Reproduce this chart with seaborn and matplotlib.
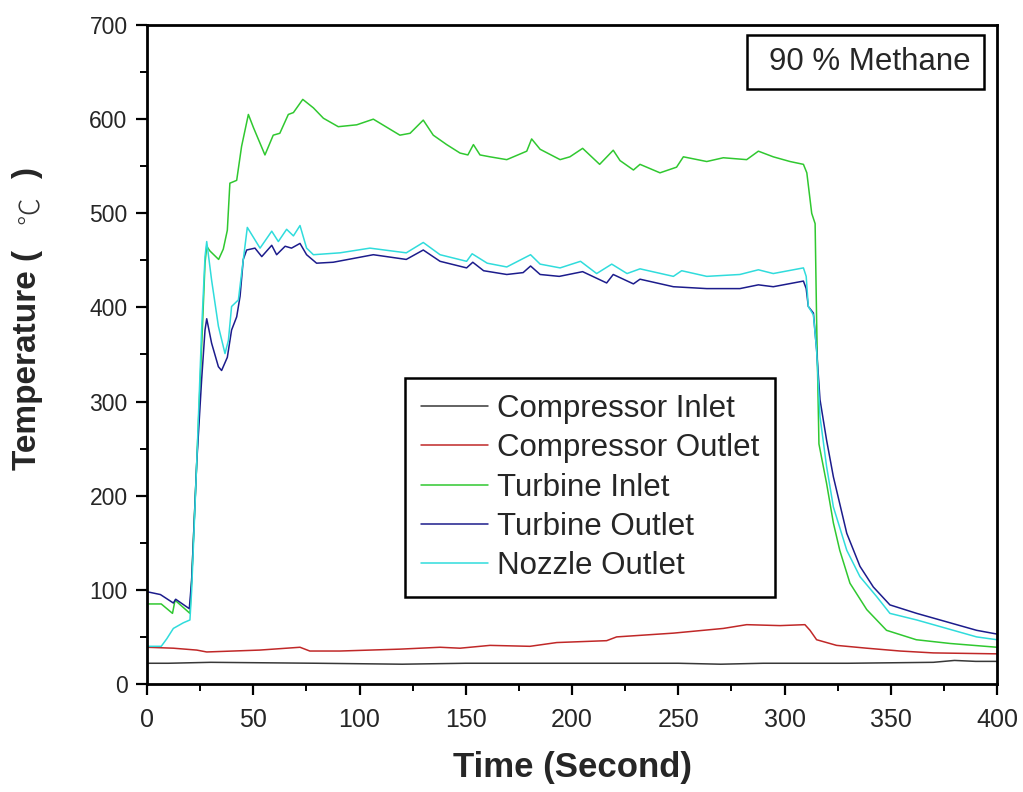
import matplotlib
matplotlib.use("Agg")
import matplotlib.pyplot as plt
from matplotlib.ticker import MultipleLocator
from matplotlib.lines import Line2D
from matplotlib.patches import Rectangle
import pandas as pd
import seaborn as sns

# Temperature traces (time in s, temperature in deg C)
ci_time = [0, 10, 30, 80, 120, 150, 200, 250, 270, 290, 330, 370, 380, 390, 400]
ci_temp = [22, 22, 23, 22, 21, 22, 22, 22, 21, 22, 22, 23, 25, 24, 24]

co_time = [0, 12.4, 23.4, 28.1, 53, 65.7, 72, 76.6, 90.8, 119, 137.9, 147.3, 161.4,
           180.2, 192.8, 216.3, 221, 247.7, 271.2, 282.2, 297.9, 309.6, 312, 315.1,
           324.5, 338.7, 354.4, 370, 400]
co_temp = [39, 38, 36, 34, 36, 38, 39, 35, 35, 37, 39, 38, 41, 40, 44, 46, 50, 54, 59,
           63, 62, 63, 57, 47, 41, 38, 35, 33, 32]

ti_time = [0, 6.7, 12.0, 13.2, 20.2, 21, 23.4, 25.7, 27.3, 28.1, 29.6, 33.7, 35.9, 37.8,
           39, 42.2, 44.5, 47.7, 50.1, 55.5, 59.4, 62.5, 66.5, 68.9, 73.3, 78.3, 83, 90,
           98.7, 106.5, 119, 123.8, 130, 134.7, 141, 147.3, 151, 153.6, 156.7, 161.4,
           169.3, 178.7, 181, 185, 194.4, 199, 205, 213, 219.4, 222.6, 228.9, 232, 241.4,
           249.2, 252.4, 263.4, 271.2, 282.2, 287.7, 294.7, 302.6, 308.9, 310.5, 312.8,
           314.4, 315.1, 316.2, 319.8, 323, 326, 330.8, 338.7, 348, 362, 378, 400]
ti_temp = [85, 85, 75, 89, 75, 110, 235, 358, 447, 465, 460, 451, 462, 482, 532, 535, 571,
           605, 591, 562, 583, 585, 605, 607, 621, 612, 601, 592, 594, 600, 583, 585, 599,
           583, 573, 564, 562, 573, 562, 560, 557, 566, 579, 568, 557, 560, 569, 552, 567,
           556, 546, 552, 543, 549, 560, 555, 559, 557, 566, 560, 555, 552, 543, 500, 489,
           387, 255, 213, 171, 142, 107, 79, 57, 47, 43, 39]

to_time = [0, 6.3, 12.4, 13.5, 19.9, 21, 23.4, 25.7, 27.3, 28.1, 30.4, 33.6, 35.1, 37.8,
           39.8, 42.2, 43.8, 45.3, 46.9, 50.8, 54, 58.7, 61, 65, 68, 72, 75.1, 79.8, 87.6,
           106.5, 122, 130, 137.9, 150.4, 153.3, 158.4, 169.3, 177, 180.5, 185, 194, 205,
           216.3, 219.4, 228.9, 232, 247.7, 263.4, 279, 287.7, 294.7, 308.9, 310.2, 311.2,
           313.6, 315.1, 316.7, 319.8, 323, 329.3, 335.5, 341.8, 349.6, 362.2, 376.3,
           390.4, 400]
to_temp = [98, 95, 86, 90, 80, 110, 235, 323, 376, 388, 362, 337, 333, 347, 376, 390, 412,
           451, 461, 463, 454, 466, 456, 465, 463, 468, 456, 447, 448, 456, 451, 461, 449,
           442, 448, 439, 435, 437, 444, 435, 433, 438, 426, 435, 425, 430, 422, 420, 420,
           424, 422, 428, 420, 401, 394, 355, 302, 259, 220, 160, 125, 103, 84, 75, 66,
           57, 53]

no_time = [0, 6.7, 9.3, 12.4, 17.1, 20.2, 21, 23.4, 25.7, 27.3, 28.1, 30.4, 33.6, 36.7,
           38.3, 39.8, 43, 44.5, 47.2, 53.2, 58.7, 61.8, 65.7, 68.9, 72, 75.1, 78.3, 90.8,
           104.9, 122, 130, 137.9, 150.4, 153, 160.1, 169.3, 180.5, 185, 194.4, 204, 211.6,
           218.7, 225.9, 232, 247.7, 251.6, 263.4, 279, 287.7, 294.7, 308.9, 310.2, 311.2,
           313.6, 315.1, 316.7, 319.8, 323, 329.3, 335.5, 343.3, 349.6, 362.2, 376.3,
           390.4, 400]
no_temp = [40, 40, 48, 59, 65, 68, 99, 235, 376, 454, 470, 429, 380, 351, 365, 401, 408,
           436, 485, 463, 481, 470, 483, 476, 487, 463, 456, 458, 463, 458, 469, 456, 449,
           457, 447, 443, 456, 446, 442, 449, 436, 446, 436, 441, 433, 439, 433, 435, 440,
           436, 442, 433, 401, 392, 355, 284, 231, 188, 142, 114, 93, 75, 68, 59, 50, 47]

series_names = ["Compressor Inlet", "Compressor Outlet", "Turbine Inlet",
                "Turbine Outlet", "Nozzle Outlet"]
series_colors = ["#383838", "#c02828", "#30c830", "#1c1c8c", "#30dcdc"]

x_ticks = [0, 50, 100, 150, 200, 250, 300, 350, 400]
y_ticks = [0, 100, 200, 300, 400, 500, 600, 700]

frames = []
for name, t, v in zip(series_names,
                      [ci_time, co_time, ti_time, to_time, no_time],
                      [ci_temp, co_temp, ti_temp, to_temp, no_temp]):
    frames.append(pd.DataFrame({"Time": t, "Temp": v, "Sensor": name}))
df = pd.concat(frames, ignore_index=True)

sns.set_style("ticks")
plt.rcParams["font.family"] = ["Liberation Sans", "DejaVu Sans"]

fig = plt.figure(figsize=(10.23, 7.92), dpi=100)
ax = fig.add_axes([0.1437, 0.1364, 0.8309, 0.832])

palette = dict(zip(series_names, series_colors))
sns.lineplot(data=df, x="Time", y="Temp", hue="Sensor", hue_order=series_names,
             palette=palette, sort=False, estimator=None, linewidth=1.1,
             legend=False, ax=ax)

ax.set_xlim(0, 400)
ax.set_ylim(0, 700)
ax.set_xticks(x_ticks)
ax.set_yticks(y_ticks)
ax.xaxis.set_minor_locator(MultipleLocator(25))
ax.yaxis.set_minor_locator(MultipleLocator(50))
ax.tick_params(axis="both", which="major", direction="out", length=8, width=1.6,
               color="black", top=False, right=False)
ax.tick_params(axis="both", which="minor", direction="out", length=5, width=1.4,
               color="black", top=False, right=False)
ax.set_yticklabels([str(v) for v in y_ticks], fontsize=16.5)
ax.set_xticklabels([str(v) for v in x_ticks], fontsize=18)
ax.tick_params(axis="x", pad=9)
ax.tick_params(axis="y", pad=6)

for sp in ax.spines.values():
    sp.set_visible(True)
    sp.set_linewidth(2.0)
    sp.set_color("black")

ax.set_xlabel("Time (Second)", fontsize=25, fontweight="bold", labelpad=14)
ax.set_ylabel("")

# Rotated y-axis title: bold words, light degree-Celsius sign
fig.text(28 / 1023, 1 - 470 / 792, "Temperature (", rotation=90, fontsize=24,
         fontweight="bold", ha="center", va="bottom")
fig.text(30 / 1023, 1 - 210 / 792, "\u2103", rotation=90, fontsize=20,
         fontweight="light", ha="center", va="center",
         family=["Noto Sans CJK JP", "DejaVu Sans"], color="#333333")
fig.text(28 / 1023, 1 - 168 / 792, ")", rotation=90, fontsize=24,
         fontweight="bold", ha="center", va="top")

handles = [Line2D([], [], color=c, linewidth=1.1) for c in series_colors]
leg = ax.legend(handles, series_names, loc="upper left",
                bbox_to_anchor=(0.3035, 0.464), borderaxespad=0,
                fontsize=22.5, frameon=True, fancybox=False, framealpha=1,
                edgecolor="black", handlelength=2.15, handletextpad=0.3,
                labelspacing=0.3, borderpad=0.5)
leg.get_frame().set_linewidth(1.8)

# Annotation box in the upper right corner
ax.add_patch(Rectangle((0.7055, 0.9029), 0.2795, 0.0819, transform=ax.transAxes,
                       facecolor="white", edgecolor="black", linewidth=1.8, zorder=5))
ax.text(0.8506, 0.9439, "90 % Methane", transform=ax.transAxes, fontsize=22.5,
        ha="center", va="center", zorder=6)

fig.savefig("out.png", dpi=100)
